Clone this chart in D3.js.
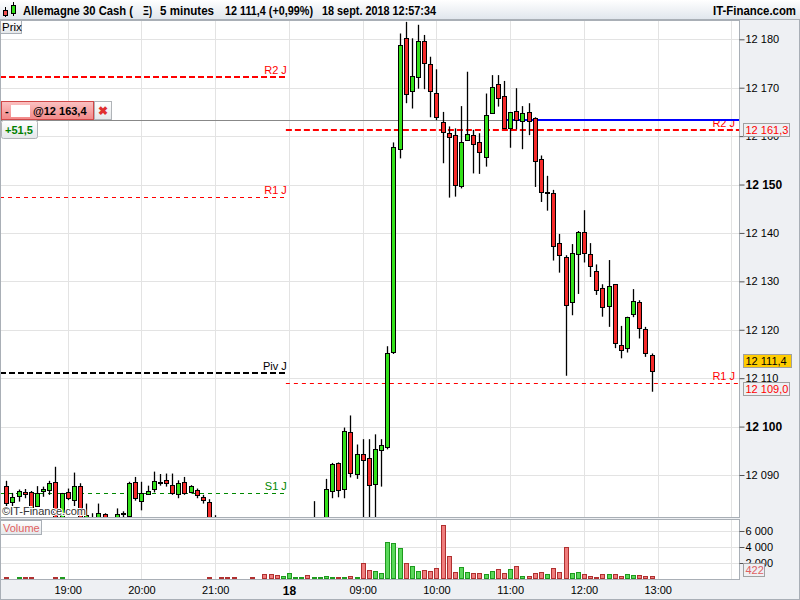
<!DOCTYPE html>
<html><head><meta charset="utf-8">
<script src="https://cdn.jsdelivr.net/npm/d3@7/dist/d3.min.js"></script>
<style>body{margin:0;background:#fff}svg{display:block;font-family:"Liberation Sans",Arial,sans-serif}</style>
</head><body><svg id="c" width="800" height="600"></svg>
<script>
// ---- data ----
const times = ["18:10","18:15","18:20","18:25","18:30","18:35","18:40","18:45","18:50","18:55",
"19:00","19:05","19:10","19:15","19:20","19:25","19:30","19:35","19:40","19:45","19:50","19:55",
"20:00","20:05","20:10","20:15","20:20","20:25","20:30","20:35","20:40","20:45","20:50","20:55",
"21:00","21:05","21:10","21:15","21:20","21:25","21:30","21:35","21:40","21:45","21:50","21:55",
"08:00","08:05","08:10","08:15","08:20","08:25","08:30","08:35","08:40","08:45","08:50","08:55",
"09:00","09:05","09:10","09:15","09:20","09:25","09:30","09:35","09:40","09:45","09:50","09:55",
"10:00","10:05","10:10","10:15","10:20","10:25","10:30","10:35","10:40","10:45","10:50","10:55",
"11:00","11:05","11:10","11:15","11:20","11:25","11:30","11:35","11:40","11:45","11:50","11:55",
"12:00","12:05","12:10","12:15","12:20","12:25","12:30","12:35","12:40","12:45","12:50","12:55"];
const opens = [12087.8,12084.5,12085.6,12086.5,12086.5,12083.6,12086.6,12087.0,12088.6,12080.5,
12086.5,12084.8,12087.7,12080.0,12079.5,12080.0,12081.9,12079.0,12080.0,12082.0,12081.5,12088.6,
12084.7,12086.0,12087.1,12088.6,12088.9,12088.0,12086.0,12088.6,12086.5,12087.0,12085.5,12084.5,
12080.0,12079.0,12076.0,12075.0,12074.0,12075.5,12076.5,12074.0,12073.0,12070.0,12067.0,12065.0,
12070.0,12075.0,12077.0,12078.0,12075.0,12079.0,12080.0,12086.7,12092.4,12087.2,12098.8,12090.3,
12094.3,12093.6,12088.1,12095.1,12095.7,12115.5,12157.3,12180.2,12169.3,12172.3,12179.6,12174.8,
12169.0,12163.0,12160.6,12160.2,12149.8,12159.1,12160.2,12158.7,12155.7,12164.8,12170.8,12168.3,
12161.6,12165.1,12163.1,12164.9,12163.7,12155.2,12148.2,12148.2,12137.9,12135.1,12125.7,12135.6,
12140.2,12135.6,12132.1,12128.6,12125.0,12129.4,12116.8,12116.2,12123.2,12125.7,12120.1,12114.8];
const highs = [12088.8,12086.3,12087.0,12087.1,12086.7,12087.7,12087.6,12088.8,12091.7,12086.3,
12087.2,12090.5,12088.3,12084.1,12082.1,12084.1,12082.1,12080.5,12083.1,12082.5,12088.6,12089.6,
12088.6,12087.8,12090.7,12090.2,12090.3,12090.3,12088.9,12089.6,12087.9,12087.2,12085.9,12085.0,
12081.7,12080.0,12078.0,12077.0,12076.0,12077.0,12077.0,12075.0,12074.0,12071.0,12068.0,12068.0,
12076.0,12078.0,12079.0,12079.0,12084.6,12080.5,12089.2,12092.5,12092.6,12099.8,12102.3,12096.3,
12097.4,12097.4,12098.4,12097.4,12116.6,12158.7,12181.2,12183.6,12180.2,12183.0,12180.9,12176.4,
12173.8,12165.0,12162.0,12161.6,12166.2,12173.3,12161.3,12160.6,12168.8,12172.6,12172.6,12171.4,
12165.0,12169.9,12166.2,12166.8,12163.9,12156.0,12151.8,12148.9,12139.8,12135.4,12137.7,12140.4,
12144.7,12137.9,12133.5,12129.4,12134.4,12129.4,12120.8,12122.7,12128.4,12126.1,12120.6,12115.1];
const lows = [12083.6,12083.6,12084.5,12085.2,12083.3,12083.4,12085.5,12085.9,12079.0,12079.5,
12084.8,12083.6,12078.0,12078.0,12078.0,12078.0,12079.0,12077.0,12078.0,12081.0,12081.0,12084.7,
12082.7,12086.0,12086.4,12087.8,12087.6,12085.9,12085.2,12085.9,12086.2,12085.2,12084.1,12078.0,
12077.0,12075.0,12074.0,12073.0,12073.0,12074.0,12073.0,12072.0,12069.0,12066.0,12064.0,12064.0,
12066.0,12073.0,12075.0,12074.0,12074.0,12077.0,12079.0,12085.2,12085.4,12085.2,12089.5,12089.2,
12080.0,12080.0,12080.0,12087.6,12095.3,12115.0,12155.4,12166.8,12165.7,12169.8,12169.7,12163.9,
12163.3,12154.4,12147.3,12147.5,12149.2,12159.1,12152.3,12152.2,12153.7,12164.8,12166.1,12161.6,
12157.6,12161.4,12157.3,12160.2,12149.5,12146.4,12144.6,12134.3,12131.8,12110.5,12123.0,12127.4,
12133.9,12130.9,12127.2,12122.7,12120.6,12116.2,12114.1,12115.3,12122.6,12118.2,12114.4,12107.2];
const closes = [12084.3,12085.4,12086.7,12086.0,12083.4,12086.2,12087.1,12088.3,12080.5,12086.2,
12085.2,12087.8,12080.0,12081.7,12080.5,12082.1,12080.0,12078.5,12081.9,12082.1,12088.3,12085.2,
12086.2,12086.7,12088.8,12088.6,12088.3,12086.2,12088.3,12086.2,12087.8,12085.8,12084.8,12080.0,
12079.0,12076.0,12075.0,12074.0,12075.5,12076.5,12074.0,12073.0,12070.0,12067.0,12065.0,12067.0,
12075.0,12077.0,12078.0,12075.0,12079.0,12080.0,12087.1,12092.2,12087.0,12099.1,12090.5,12094.3,
12093.2,12087.9,12095.4,12096.3,12115.3,12157.7,12178.8,12168.8,12172.5,12179.7,12175.2,12169.3,
12163.9,12160.9,12159.8,12150.0,12158.7,12160.4,12158.3,12156.7,12164.3,12170.1,12167.8,12161.7,
12164.9,12163.3,12164.7,12163.1,12154.9,12148.4,12148.4,12137.3,12135.4,12125.2,12135.8,12140.1,
12135.8,12133.2,12128.3,12124.8,12129.1,12117.2,12115.8,12122.7,12125.9,12120.3,12115.1,12111.4];
const volumes = [250,120,250,250,250,120,40,165,250,250,
120,120,120,120,120,120,120,120,120,40,120,120,
120,40,120,40,120,120,40,120,40,120,40,250,
165,250,250,250,120,120,250,120,577,577,450,330,
740,250,250,450,250,250,330,250,250,250,330,250,
1940,1070,950,700,4650,4530,3900,1940,1570,950,1070,950,
1320,6760,2925,825,1440,825,700,700,580,950,1195,700,
1195,1570,330,330,700,825,580,1320,825,4040,700,825,
580,330,205,580,580,580,330,580,450,450,330,422];
const hourIdx = [10,22,34,46,58,70,82,94,106,118];
const hourLabels = ["19:00","20:00","21:00","18","09:00","10:00","11:00","12:00","13:00",""];
const priceTicks = [12090,12100,12110,12120,12130,12140,12150,12160,12170,12180];
const volTicks = [2000,4000,6000];
const levelsPrev = [{name:"R2 J",v:12172.3,k:"r2"},{name:"R1 J",v:12147.5,k:"r1"},{name:"Piv J",v:12111.1,k:"piv"},{name:"S1 J",v:12086.2,k:"s1"}];
const levelsToday = [{name:"R2 J",v:12161.3,k:"r2"},{name:"R1 J",v:12109.0,k:"r1"}];
const orderPrice = 12163.4, orderStartIdx = 82, lastPrice = 12111.4, lastVolume = 422;
const headerTexts = [["Allemagne 30 Cash (",23,110],["Ξ)",143,9],["5 minutes",160,54],["12 111,4 (+0,99%)",225,88],["18 sept. 2018 12:57:34",322,114]];

// ---- layout ----
const svg = d3.select("#c");
const P = {l:0, r:739, t:20, b:517};
const V = {t:520, b:579};
const x = d3.scaleLinear().domain([10,106]).range([67.7,657.7]);
const y = d3.scaleLinear().domain([12090,12180]).range([475,39.3]);
const yv = d3.scaleLinear().domain([0,6000]).range([579,531]);
const loc = d3.formatLocale({decimal:",",thousands:" ",grouping:[3],currency:["",""]});
const fInt = loc.format(",d"), f1 = loc.format(",.1f");
const px = v => Math.round(v)+0.5;

const defs = svg.append("defs");
const hg = defs.append("linearGradient").attr("id","hg").attr("x1",0).attr("y1",0).attr("x2",0).attr("y2",1);
hg.append("stop").attr("offset","0").attr("stop-color","#ffffff");
hg.append("stop").attr("offset","1").attr("stop-color","#dfe5ec");
const og = defs.append("linearGradient").attr("id","og").attr("x1",0).attr("y1",0).attr("x2",0).attr("y2",1);
og.append("stop").attr("offset","0").attr("stop-color","#fbc2c2");
og.append("stop").attr("offset","1").attr("stop-color","#f28888");
const bg = defs.append("linearGradient").attr("id","bg").attr("x1",0).attr("y1",0).attr("x2",0).attr("y2",1);
bg.append("stop").attr("offset","0").attr("stop-color","#ffffff");
bg.append("stop").attr("offset","1").attr("stop-color","#e4e7ea");
defs.append("clipPath").attr("id","cp").append("rect").attr("x",P.l).attr("y",P.t).attr("width",P.r-P.l).attr("height",P.b-P.t);
defs.append("clipPath").attr("id","cv").append("rect").attr("x",0).attr("y",V.t).attr("width",P.r).attr("height",V.b-V.t);

// backgrounds
svg.append("rect").attr("width",800).attr("height",600).attr("fill","#eef0f3");
svg.append("rect").attr("x",0).attr("y",P.t).attr("width",P.r).attr("height",P.b-P.t).attr("fill","#fff");
svg.append("rect").attr("x",0).attr("y",V.t).attr("width",P.r).attr("height",V.b-V.t).attr("fill","#fff");

// grid
const grid = svg.append("g").attr("stroke","#e3e3e3").attr("stroke-width",1);
priceTicks.forEach(v=>grid.append("line").attr("x1",0).attr("x2",P.r).attr("y1",px(y(v))).attr("y2",px(y(v))));
hourIdx.forEach(i=>{
  grid.append("line").attr("x1",px(x(i))).attr("x2",px(x(i))).attr("y1",P.t).attr("y2",P.b);
  grid.append("line").attr("x1",px(x(i))).attr("x2",px(x(i))).attr("y1",V.t).attr("y2",V.b);
});
volTicks.forEach(v=>grid.append("line").attr("x1",0).attr("x2",P.r).attr("y1",px(yv(v))).attr("y2",px(yv(v))));

// pivot levels
const lstyle = {r2:{c:"#ff0000",w:2,d:"6,3"}, r1:{c:"#ff0000",w:1,d:"4,4"}, piv:{c:"#000",w:2,d:"6,3"}, s1:{c:"#008800",w:1,d:"4,4"}};
const lcol = {r2:"#ff0000",r1:"#ff0000",piv:"#000",s1:"#008800"};
const ly = (d,s) => s.w===1 ? px(y(d.v)) : Math.round(y(d.v));
const lv = svg.append("g").attr("clip-path","url(#cp)");
levelsPrev.forEach(d=>{
  const s=lstyle[d.k], yy=ly(d,s);
  lv.append("line").attr("x1",0).attr("x2",x(45.5)).attr("y1",yy).attr("y2",yy)
    .attr("stroke",s.c).attr("stroke-width",s.w).attr("stroke-dasharray",s.d);
  lv.append("text").attr("x",x(45.5)+1).attr("y",Math.round(y(d.v))-3).attr("text-anchor","end").attr("font-size",11)
    .attr("fill",lcol[d.k]).text(d.name);
});
levelsToday.forEach(d=>{
  const s=lstyle[d.k], yy=ly(d,s);
  lv.append("line").attr("x1",x(45.5)).attr("x2",P.r).attr("y1",yy).attr("y2",yy)
    .attr("stroke",s.c).attr("stroke-width",s.w).attr("stroke-dasharray",s.d);
  lv.append("text").attr("x",P.r-4).attr("y",Math.round(y(d.v))-3).attr("text-anchor","end").attr("font-size",11)
    .attr("fill",lcol[d.k]).text(d.name);
});
// order line
lv.append("line").attr("x1",0).attr("x2",P.r).attr("y1",px(y(orderPrice))).attr("y2",px(y(orderPrice))).attr("stroke","#888").attr("stroke-width",1);
lv.append("line").attr("x1",x(orderStartIdx)-6).attr("x2",P.r).attr("y1",Math.round(y(orderPrice))).attr("y2",Math.round(y(orderPrice))).attr("stroke","#0000ff").attr("stroke-width",2);

// candles
const idx = d3.range(times.length);
const up = i => closes[i] >= opens[i];
const cg = svg.append("g").attr("clip-path","url(#cp)");
cg.selectAll("line.w").data(idx).join("line").attr("class","w")
  .attr("x1",i=>px(x(i))).attr("x2",i=>px(x(i))).attr("y1",i=>y(highs[i])).attr("y2",i=>y(lows[i]))
  .attr("stroke","#000").attr("stroke-width",1.3);
cg.selectAll("rect.b").data(idx).join("rect").attr("class","b")
  .attr("x",i=>Math.round(x(i))-2+0.5).attr("width",4)
  .attr("y",i=>Math.round(y(Math.max(opens[i],closes[i])))+0.5)
  .attr("height",i=>Math.max(1,Math.round(y(Math.min(opens[i],closes[i])))-Math.round(y(Math.max(opens[i],closes[i])))))
  .attr("fill",i=>up(i)?"#33e01a":"#f52a2a").attr("stroke","#000").attr("stroke-width",1);

// watermark
svg.append("text").attr("x",2).attr("y",515).attr("font-size",11).attr("fill","#333")
  .attr("stroke","#fff").attr("stroke-width",2).attr("paint-order","stroke").text("©IT-Finance.com");

// volume bars
const vg = svg.append("g").attr("clip-path","url(#cv)");
vg.selectAll("rect").data(idx).join("rect")
  .attr("x",i=>Math.round(x(i))-2+0.5).attr("width",4)
  .attr("y",i=>Math.round(yv(volumes[i]))+0.5)
  .attr("height",i=>Math.max(0,V.b-Math.round(yv(volumes[i]))-1))
  .attr("fill",i=>up(i)?"#5ad85a":"#ef7d7d").attr("stroke",i=>up(i)?"#1e9a1e":"#b03030").attr("stroke-width",1);

// panel borders
const bord = "#a9afb6";
svg.append("rect").attr("x",0.5).attr("y",P.t+0.5).attr("width",P.r).attr("height",P.b-P.t).attr("fill","none").attr("stroke",bord);
svg.append("rect").attr("x",0.5).attr("y",V.t-0.5).attr("width",P.r).attr("height",V.b-V.t+1).attr("fill","none").attr("stroke",bord);
svg.append("rect").attr("x",0.5).attr("y",0.5).attr("width",799).attr("height",599).attr("fill","none").attr("stroke",bord);

// price axis
const ya = svg.append("g").attr("transform",`translate(${P.r+0.5},0)`)
  .call(d3.axisRight(y).tickValues(priceTicks).tickSize(5).tickPadding(1).tickFormat(fInt));
ya.select(".domain").remove();
ya.selectAll("line").attr("stroke","#555");
ya.selectAll("text").attr("font-family","Liberation Sans, Arial").attr("fill","#000")
  .attr("font-size",d=>d%50===0?12:11).attr("font-weight",d=>d%50===0?"bold":"normal");

// volume axis
const va = svg.append("g").attr("transform",`translate(${P.r+0.5},0)`)
  .call(d3.axisRight(yv).tickValues(volTicks).tickSize(5).tickPadding(1).tickFormat(fInt));
va.select(".domain").remove();
va.selectAll("line").attr("stroke","#555");
va.selectAll("text").attr("font-family","Liberation Sans, Arial").attr("font-size",11).attr("fill","#000");

// price boxes on axis
function axBox(cy, w, txt, fill, col){
  const g = svg.append("g");
  g.append("rect").attr("x",743.5).attr("y",cy-6.5).attr("width",w).attr("height",13).attr("fill",fill).attr("stroke","#a0a0a0");
  g.append("text").attr("x",745.5).attr("y",cy+4).attr("font-size",11).attr("fill",col).text(txt);
}
axBox(Math.round(y(levelsToday[0].v)), 46, f1(levelsToday[0].v), "#eef0f3", "#ff0000");
axBox(Math.round(y(levelsToday[1].v))+6, 46, f1(levelsToday[1].v), "#eef0f3", "#ff0000");
axBox(Math.round(y(lastPrice))-10, 48, f1(lastPrice), "#ffcc00", "#000");
axBox(Math.round(yv(lastVolume))-6, 21, fInt(lastVolume), "#eef0f3", "#e06060");

// x axis
const xa = svg.append("g").attr("transform",`translate(0,${V.b})`)
  .call(d3.axisBottom(x).tickValues(hourIdx).tickSize(0).tickPadding(5).tickFormat((d,i)=>hourLabels[i]));
xa.select(".domain").remove();
xa.selectAll("text").attr("font-family","Liberation Sans, Arial").attr("fill","#000")
  .attr("font-size",(d,i)=>hourLabels[i]==="18"?12:11).attr("font-weight",(d,i)=>hourLabels[i]==="18"?"bold":"normal")
  .attr("dy","0.95em");

// header
svg.append("rect").attr("x",0).attr("y",0).attr("width",800).attr("height",20).attr("fill","url(#hg)");
svg.append("line").attr("x1",0).attr("x2",800).attr("y1",19.5).attr("y2",19.5).attr("stroke","#a9afb6");
svg.append("line").attr("x1",5.5).attr("x2",5.5).attr("y1",7).attr("y2",17).attr("stroke","#000");
svg.append("rect").attr("x",3.5).attr("y",10.5).attr("width",4).attr("height",5).attr("fill","#f05050").attr("stroke","#000");
svg.append("line").attr("x1",13.5).attr("x2",13.5).attr("y1",2).attr("y2",16).attr("stroke","#000");
svg.append("rect").attr("x",11.5).attr("y",5.5).attr("width",4).attr("height",8).attr("fill","#33e01a").attr("stroke","#000");
headerTexts.forEach(([t,xx,w])=>svg.append("text").attr("x",xx).attr("y",15).attr("font-size",12).attr("font-weight","bold").attr("fill","#000")
  .attr("textLength",w).attr("lengthAdjust","spacingAndGlyphs").text(t));
svg.append("text").attr("x",713).attr("y",15).attr("font-size",12).attr("font-weight","bold").attr("fill","#000")
  .attr("textLength",83).attr("lengthAdjust","spacingAndGlyphs").text("IT-Finance.com");

// Prix / Volume tags
svg.append("rect").attr("x",0.5).attr("y",20.5).attr("width",21).attr("height",13).attr("fill","url(#bg)").attr("stroke","#a9afb6");
svg.append("text").attr("x",2).attr("y",31).attr("font-size",11.5).attr("fill","#000").text("Prix");
svg.append("rect").attr("x",0.5).attr("y",520.5).attr("width",41).attr("height",14).attr("fill","url(#bg)").attr("stroke","#a9afb6");
svg.append("text").attr("x",3).attr("y",531.5).attr("font-size",11).attr("fill","#e06060").text("Volume");

// order tag
{
  const yy = Math.round(y(orderPrice));
  svg.append("rect").attr("x",1.5).attr("y",yy-18.5).attr("width",92).attr("height",18).attr("fill","url(#og)").attr("stroke","#d04848");
  svg.append("text").attr("x",5).attr("y",yy-5).attr("font-size",11).attr("font-weight","bold").attr("fill","#000").text("-");
  svg.append("rect").attr("x",11).attr("y",yy-15).attr("width",19).attr("height",12).attr("fill","#fff");
  svg.append("text").attr("x",33).attr("y",yy-5).attr("font-size",11).attr("font-weight","bold").attr("fill","#000").text("@" + f1(orderPrice));
  svg.append("rect").attr("x",94.5).attr("y",yy-18.5).attr("width",17).attr("height",18).attr("fill","url(#bg)").attr("stroke","#b0b4b8");
  svg.append("text").attr("x",103).attr("y",yy-5).attr("text-anchor","middle").attr("font-size",12).attr("font-weight","bold").attr("fill","#e03030").text("✖");
  svg.append("rect").attr("x",1.5).attr("y",yy+0.5).attr("width",36).attr("height",18).attr("rx",2).attr("fill","url(#bg)").attr("stroke","#b0b4b8");
  svg.append("text").attr("x",5).attr("y",yy+14).attr("font-size",11).attr("font-weight","bold").attr("fill","#008000").text("+51,5");
}
</script></body></html>
